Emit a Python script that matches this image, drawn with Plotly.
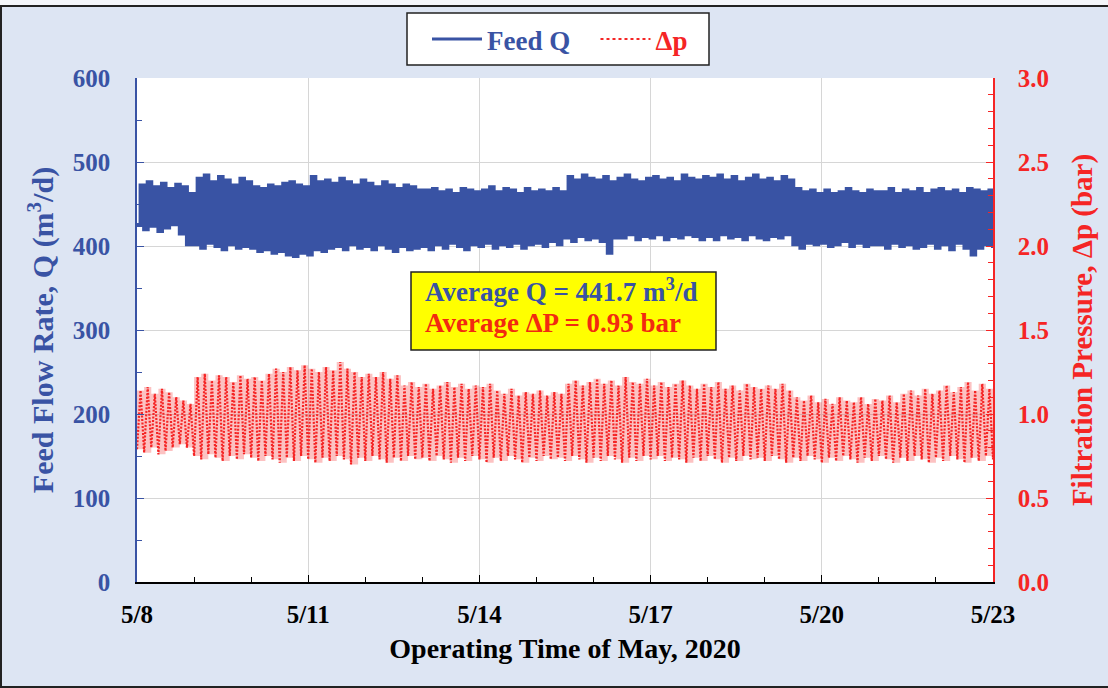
import plotly.graph_objects as go

# ---------------- data ----------------
# cycle start times, every 1/8 day from 5/8 to 5/23 (day-of-May)
cycle_days = [8 + i / 8 for i in range(121)]
half_cycle = 1 / 16

# Feed flow rate Q (m3/d): lower / upper value of each cycle
Q_lo = [425, 420, 424, 418, 422, 426, 415, 402,
        402, 398, 404, 400, 396, 402, 398, 400,
        398, 394, 396, 392, 394, 390, 388, 392,
        390, 396, 394, 398, 400, 396, 402, 398,
        400, 396, 402, 398, 394, 400, 396, 398,
        400, 396, 402, 398, 404, 400, 396, 402,
        400, 404, 398, 402, 400, 404, 398, 402,
        404, 400, 406, 402, 410, 406, 412, 408,
        410, 406, 392, 410, 410, 414, 408, 412,
        410, 414, 408, 412, 410, 414, 412, 408,
        412, 408, 414, 410, 412, 408, 414, 410,
        408, 412, 410, 414, 402, 398, 404, 402,
        404, 400, 402, 406, 400, 404, 400, 402,
        402, 398, 404, 400, 402, 398, 400, 404,
        398, 402, 396, 404, 398, 390, 398, 402,
        400]
Q_hi = [472, 476, 470, 474, 468, 473, 470, 462,
        480, 484, 476, 482, 478, 472, 480, 476,
        470, 468, 472, 470, 474, 476, 472, 470,
        482, 476, 478, 474, 480, 476, 472, 478,
        474, 470, 476, 472, 468, 472, 470, 466,
        466, 468, 464, 466, 462, 468, 466, 464,
        466, 470, 464, 468, 466, 462, 468, 464,
        466, 464, 468, 464, 482, 478, 484, 480,
        478, 482, 476, 480, 484, 478, 476, 480,
        482, 478, 480, 476, 484, 480, 478, 482,
        480, 484, 478, 482, 476, 480, 484, 478,
        480, 476, 482, 478, 468, 464, 466, 462,
        466, 462, 464, 468, 464, 462, 466, 464,
        464, 468, 462, 466, 464, 468, 462, 466,
        468, 464, 466, 462, 468, 466, 464, 466,
        464]

# Filtration pressure dp (bar): lower / upper value of each cycle
P_lo = [0.79, 0.77, 0.80, 0.76, 0.78, 0.80, 0.82, 0.80,
        0.75, 0.73, 0.76, 0.74, 0.72, 0.75, 0.73, 0.76,
        0.74, 0.72, 0.75, 0.73, 0.71, 0.74, 0.72, 0.75,
        0.73, 0.71, 0.74, 0.72, 0.75, 0.73, 0.70, 0.74,
        0.72, 0.75, 0.73, 0.71, 0.74, 0.72, 0.75, 0.73,
        0.74, 0.72, 0.75, 0.73, 0.71, 0.74, 0.72, 0.75,
        0.73, 0.71, 0.74, 0.72, 0.75, 0.73, 0.71, 0.74,
        0.72, 0.75, 0.73, 0.74, 0.72, 0.75, 0.73, 0.71,
        0.74, 0.72, 0.75, 0.73, 0.71, 0.74, 0.72, 0.75,
        0.73, 0.75, 0.72, 0.74, 0.73, 0.71, 0.74, 0.72,
        0.75, 0.73, 0.71, 0.74, 0.72, 0.75, 0.73, 0.74,
        0.72, 0.75, 0.73, 0.71, 0.74, 0.72, 0.75, 0.73,
        0.71, 0.74, 0.72, 0.75, 0.73, 0.71, 0.74, 0.72,
        0.75, 0.73, 0.71, 0.74, 0.72, 0.75, 0.73, 0.71,
        0.74, 0.72, 0.75, 0.73, 0.71, 0.74, 0.72, 0.75,
        0.73]
P_hi = [1.14, 1.16, 1.12, 1.15, 1.13, 1.10, 1.08, 1.06,
        1.22, 1.24, 1.20, 1.23, 1.22, 1.19, 1.23, 1.21,
        1.22, 1.20, 1.24, 1.27, 1.25, 1.28, 1.26, 1.29,
        1.27, 1.25, 1.28, 1.26, 1.31, 1.27, 1.25, 1.22,
        1.24, 1.22, 1.25, 1.21, 1.23, 1.17, 1.19, 1.16,
        1.18, 1.15, 1.17, 1.19, 1.16, 1.18, 1.15, 1.17,
        1.16, 1.18, 1.14, 1.12, 1.15, 1.11, 1.13, 1.12,
        1.14, 1.11, 1.13, 1.12, 1.18, 1.20, 1.17, 1.19,
        1.21, 1.18, 1.20, 1.17, 1.22, 1.19, 1.18, 1.21,
        1.17, 1.19, 1.16, 1.18, 1.20, 1.17, 1.15, 1.18,
        1.16, 1.19, 1.15, 1.17, 1.14, 1.18, 1.16, 1.15,
        1.17, 1.15, 1.18, 1.14, 1.10, 1.08, 1.11, 1.07,
        1.09, 1.06, 1.10, 1.08, 1.07, 1.10, 1.06, 1.09,
        1.08, 1.11, 1.07, 1.12, 1.14, 1.11, 1.15, 1.12,
        1.14, 1.17, 1.13, 1.16, 1.19, 1.14, 1.18, 1.15,
        1.16]

x_tick_days = [8, 11, 14, 17, 20, 23]
x_tick_labels = ["5/8", "5/11", "5/14", "5/17", "5/20", "5/23"]
avg_Q = 441.7
avg_dP = 0.93

# ---------------- styling ----------------
BLUE = "#3953a4"
RED = "#f52525"
FONT = "Liberation Serif"
BG = "#dde5f3"


def zigzag(lo, hi):
    xs, ys = [], []
    for t, a, b in zip(cycle_days, lo, hi):
        xs += [t, t + half_cycle]
        ys += [a, b]
    return xs, ys


qx, qy = zigzag(Q_lo, Q_hi)
px_, py_ = zigzag(P_lo, P_hi)

fig = go.Figure()
fig.add_trace(go.Scatter(x=qx, y=qy, mode="lines", line=dict(color=BLUE, width=4, shape="hv"),
                         showlegend=False, hoverinfo="skip"))
# light band of the pressure cycles, then the dotted cycles themselves
fig.add_trace(go.Scatter(x=cycle_days, y=P_lo, mode="lines", yaxis="y2",
                         line=dict(width=0, shape="hv"), showlegend=False, hoverinfo="skip"))
fig.add_trace(go.Scatter(x=cycle_days, y=P_hi, mode="lines", yaxis="y2", fill="tonexty",
                         fillcolor="rgba(245,37,37,0.28)",
                         line=dict(width=0, shape="hv"), showlegend=False, hoverinfo="skip"))
fig.add_trace(go.Scatter(x=px_, y=py_, mode="lines", yaxis="y2",
                         line=dict(color=RED, width=2.2, dash="2px,1.5px"),
                         showlegend=False, hoverinfo="skip"))
# legend entries
fig.add_trace(go.Scatter(x=[None], y=[None], mode="lines",
                         name=f"<span style='color:{BLUE}'>Feed Q</span>\u00a0\u00a0\u00a0",
                         line=dict(color=BLUE, width=3)))
fig.add_trace(go.Scatter(x=[None], y=[None], mode="lines", yaxis="y2",
                         name=f"<span style='color:{RED}'>Δp</span>",
                         line=dict(color=RED, width=2, dash="dot")))

L, R, T, B = 137, 115, 78, 106
W, H = 1108, 688
pw, ph = W - L - R, H - T - B


def pxx(v):
    return (v - L) / pw


def pyy(v):
    return (H - B - v) / ph


fig.update_layout(
    width=W, height=H,
    margin=dict(l=L, r=R, t=T, b=B),
    paper_bgcolor=BG, plot_bgcolor="white",
    font=dict(family=FONT, size=24, color="black", weight="bold"),
    legend=dict(orientation="h", x=pxx(427), y=pyy(15), xanchor="left", yanchor="top",
                traceorder="normal",
                bgcolor="rgba(0,0,0,0)", borderwidth=0,
                font=dict(family=FONT, size=27, weight="bold"), itemwidth=50),
    xaxis=dict(range=[8, 23], tickmode="array", tickvals=x_tick_days, ticktext=x_tick_labels,
               ticks="inside", ticklen=7, tickcolor="black", tickwidth=1,
               showline=True, linecolor="black", linewidth=1.5,
               showgrid=True, gridcolor="#d6d6d6", gridwidth=1, zeroline=False,
               tickfont=dict(family=FONT, size=25, color="black", weight="bold"),
               ticklabelstandoff=9,
               minor=dict(tickmode="linear", tick0=8, dtick=1, ticks="inside", ticklen=5,
                          tickcolor="black", showgrid=False),
               title=dict(text="Operating Time of May, 2020", standoff=12,
                          font=dict(family=FONT, size=28, color="black", weight="bold"))),
    yaxis=dict(range=[0, 600], dtick=100, ticks="inside", ticklen=7, tickcolor=BLUE,
               showline=True, linecolor=BLUE, linewidth=1.5,
               showgrid=True, gridcolor="#d6d6d6", gridwidth=1, zeroline=False,
               tickfont=dict(family=FONT, size=25, color=BLUE, weight="bold"),
               ticklabelstandoff=20,
               minor=dict(dtick=50, ticks="inside", ticklen=5, tickcolor=BLUE, showgrid=False),
               title=dict(text="Feed Flow Rate, Q (m<sup>3</sup>/d)", standoff=10,
                          font=dict(family=FONT, size=30, color=BLUE, weight="bold"))),
    yaxis2=dict(range=[0, 3], dtick=0.5, tickformat=".1f", overlaying="y", side="right",
                ticks="inside", ticklen=7, tickcolor=RED,
                showline=True, linecolor=RED, linewidth=1.5,
                showgrid=False, zeroline=False,
                tickfont=dict(family=FONT, size=25, color=RED, weight="bold"),
                ticklabelstandoff=18,
                minor=dict(dtick=0.1, ticks="inside", ticklen=5, tickcolor=RED, showgrid=False),
                title=dict(text="Filtration Pressure, Δp (bar)", standoff=24,
                           font=dict(family=FONT, size=29, color=RED, weight="bold"))),
)

# outer frame, legend frame and statistics box
fig.add_shape(type="rect", xref="paper", yref="paper", x0=pxx(-5), x1=pxx(W + 5), y0=pyy(0), y1=pyy(6),
              fillcolor="#f4f6fa", line=dict(width=0), layer="above")
fig.add_shape(type="rect", xref="paper", yref="paper", x0=pxx(1), x1=pxx(W + 3), y0=pyy(687), y1=pyy(6),
              line=dict(color="#222222", width=2), layer="above")
fig.add_shape(type="rect", xref="paper", yref="paper", x0=pxx(407), x1=pxx(709), y0=pyy(65), y1=pyy(13),
              fillcolor="white", line=dict(color="#222222", width=1.5), layer="below")
fig.add_shape(type="rect", xref="paper", yref="paper", x0=pxx(411), x1=pxx(716), y0=pyy(350), y1=pyy(272),
              fillcolor="#ffff00", line=dict(color="#222222", width=1.5), layer="above")
fig.add_annotation(xref="paper", yref="paper", x=pxx(423), y=pyy(290), xanchor="left", yanchor="middle",
                   showarrow=False,
                   text=f"Average Q = {avg_Q} m<sup>3</sup>/d",
                   font=dict(family=FONT, size=27, color=BLUE, weight="bold"))
fig.add_annotation(xref="paper", yref="paper", x=pxx(423), y=pyy(323), xanchor="left", yanchor="middle",
                   showarrow=False,
                   text=f"Average ΔP = {avg_dP} bar",
                   font=dict(family=FONT, size=27, color="#f22a10", weight="bold"))

fig.write_html("out.html")
